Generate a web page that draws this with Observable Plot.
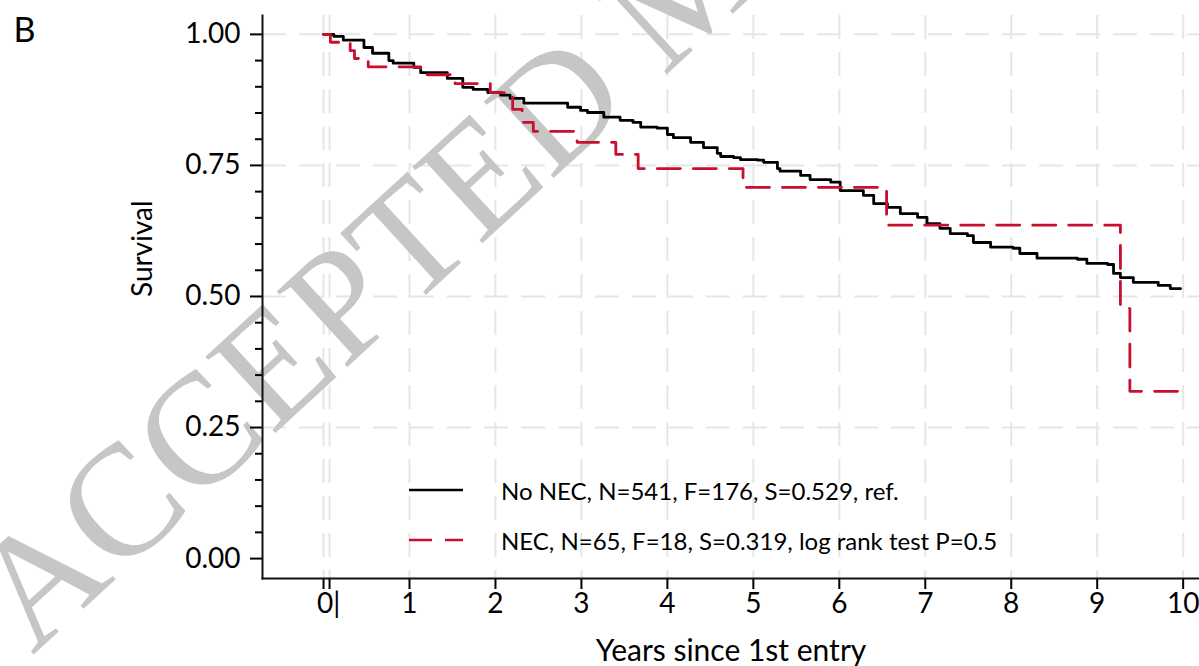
<!DOCTYPE html>
<html>
<head>
<meta charset="utf-8">
<script src="https://cdn.jsdelivr.net/npm/d3@7"></script>
<script src="https://cdn.jsdelivr.net/npm/@observablehq/plot@0.6"></script>
<style>
  html, body { margin: 0; padding: 0; background: #fff; }
  #wrap { position: relative; width: 1199px; height: 666px; overflow: hidden; font-family: Lato, sans-serif; }
  #legend { position: absolute; left: 409px; top: 465px; font-size: 24px; color: #000; font-family: Lato, sans-serif; }
  .row { display: flex; align-items: center; height: 50px; }
  .row span { margin-left: 38px; white-space: nowrap; }
  .row svg { display: block; }
</style>
</head>
<body>
<div id="wrap"></div>
<script>
// ---------- data ----------
const panelLabel = "B";
const watermark = "ACCEPTED MANUSCRIPT";
const xLabel = "Years since 1st entry";
const yLabel = "Survival";
const seriesNames = ["No NEC", "NEC"];
const legendLabels = [
  "No NEC, N=541, F=176, S=0.529, ref.",
  "NEC, N=65, F=18, S=0.319, log rank test P=0.5"
];
const xTicks = [0, 0.07, 1, 2, 3, 4, 5, 6, 7, 8, 9, 10];
const xTickLabels = ["", "", "1", "2", "3", "4", "5", "6", "7", "8", "9", "10"];
const xZeroLabel = "0|";
const yTicks = [0, 0.25, 0.5, 0.75, 1];
const yTickLabels = ["0.00", "0.25", "0.50", "0.75", "1.00"];
const yMinorTicks = [0.05, 0.1, 0.15, 0.2, 0.3, 0.35, 0.4, 0.45, 0.55, 0.6, 0.65, 0.7, 0.8, 0.85, 0.9, 0.95];
const yGridTicks = [0.25, 0.5, 0.75, 1];

const noNecTime = [0, 0.12, 0.23, 0.47, 0.57, 0.76, 0.81, 1.05, 1.13, 1.44, 1.62, 1.74, 1.91, 2.06, 2.17,
  2.33, 2.84, 2.99, 3.07, 3.26, 3.45, 3.60, 3.69, 3.88, 4.00, 4.07, 4.27, 4.42, 4.58, 4.62,
  4.77, 4.85, 5.05, 5.12, 5.28, 5.31, 5.55, 5.66, 5.90, 6.01, 6.28, 6.40, 6.56, 6.71, 6.91,
  7.02, 7.17, 7.29, 7.49, 7.56, 7.76, 8.02, 8.10, 8.30, 8.77, 8.88, 9.12, 9.19, 9.27, 9.42,
  9.71, 9.85, 9.97];
const noNecSurv = [1.000, 0.996, 0.989, 0.975, 0.964, 0.950, 0.945, 0.937, 0.927, 0.916, 0.899, 0.895, 0.889, 0.884, 0.878,
  0.869, 0.861, 0.855, 0.851, 0.842, 0.836, 0.832, 0.823, 0.821, 0.809, 0.803, 0.794, 0.784, 0.773, 0.767,
  0.765, 0.761, 0.760, 0.756, 0.744, 0.739, 0.731, 0.723, 0.718, 0.702, 0.693, 0.677, 0.670, 0.658, 0.651,
  0.639, 0.630, 0.620, 0.616, 0.603, 0.594, 0.592, 0.582, 0.573, 0.571, 0.563, 0.561, 0.544, 0.536, 0.527,
  0.521, 0.515, 0.515];

const necTime = [0, 0.08, 0.31, 0.36, 0.52, 1.13, 1.53, 1.94, 2.20, 2.31, 2.44, 2.95, 3.40, 3.66, 4.88, 6.55, 9.27, 9.38, 9.97];
const necSurv = [1.000, 0.985, 0.969, 0.954, 0.938, 0.923, 0.906, 0.889, 0.857, 0.832, 0.815, 0.794, 0.771, 0.744, 0.708, 0.636, 0.477, 0.319, 0.319];

// ---------- styles ----------
const seriesStyle = [
  {stroke: "#000000", dash: null},
  {stroke: "#c8102e", dash: "23,13"}
];
const gridStyle = {stroke: "#e6e6e6", strokeOpacity: 1, strokeWidth: 2, strokeDasharray: "24,13"};
const font = "Lato, sans-serif";

const rowsNoNec = noNecTime.map((t, i) => ({t, s: noNecSurv[i], series: seriesNames[0]}));
const rowsNec = necTime.map((t, i) => ({t, s: necSurv[i], series: seriesNames[1]}));

const plot = Plot.plot({
  width: 1199,
  height: 666,
  marginLeft: 262,
  marginRight: 0,
  marginTop: 15,
  marginBottom: 88,
  x: {domain: [-0.71, 10.19]},
  y: {domain: [-0.038, 1.036]},
  style: {fontFamily: font, background: "transparent", color: "#000", overflow: "visible"},
  marks: [
    Plot.gridX(xTicks, gridStyle),
    Plot.gridY(yGridTicks, gridStyle),
    Plot.text([watermark], {
      frameAnchor: "top-left", dx: -230, dy: 640, rotate: -42.5,
      textAnchor: "start", lineAnchor: "bottom",
      fontSize: 158, fontFamily: "Liberation Serif, serif", fill: "#c6c6c6"
    }),
    Plot.line(rowsNoNec, {x: "t", y: "s", curve: "step-after", stroke: seriesStyle[0].stroke, strokeWidth: 2.8}),
    Plot.line(rowsNec, {x: "t", y: "s", curve: "step-after", stroke: seriesStyle[1].stroke, strokeWidth: 2.8, strokeDasharray: seriesStyle[1].dash}),
    Plot.axisY(yTicks, {tickSize: 12, tickPadding: 10, strokeWidth: 2, fontSize: 28, label: null,
      tickFormat: d => yTickLabels[yTicks.indexOf(d)]}),
    Plot.axisY(yMinorTicks, {tickSize: 7, strokeWidth: 2, tickFormat: () => "", label: null}),
    Plot.axisX(xTicks, {tickSize: 11, tickPadding: 4, strokeWidth: 2, fontSize: 28, label: null,
      tickFormat: d => xTickLabels[xTicks.indexOf(d)]}),
    Plot.axisX([0], {tickSize: 0, tickPadding: 15, dx: 5, fontSize: 28, label: null,
      tickFormat: () => xZeroLabel}),
    Plot.frame({anchor: "left", strokeWidth: 2, stroke: "#111"}),
    Plot.frame({anchor: "bottom", strokeWidth: 2, stroke: "#111"}),
    Plot.text([yLabel], {frameAnchor: "left", dx: -119, rotate: -90, fontSize: 28}),
    Plot.text([xLabel], {frameAnchor: "bottom", dy: 82, lineAnchor: "bottom", fontSize: 30}),
    Plot.text([panelLabel], {frameAnchor: "top-left", dx: -249, dy: 2, lineAnchor: "top", textAnchor: "start", fontSize: 34})
  ]
});

const wrap = document.getElementById("wrap");
wrap.appendChild(plot);

// legend
const legend = d3.select(wrap).append("div").attr("id", "legend");
legendLabels.forEach((lab, i) => {
  const row = legend.append("div").attr("class", "row");
  const svg = row.append("svg").attr("width", 54).attr("height", 6);
  svg.append("line").attr("x1", 0).attr("x2", 54).attr("y1", 3).attr("y2", 3)
    .attr("stroke", seriesStyle[i].stroke).attr("stroke-width", 2.5)
    .attr("stroke-dasharray", seriesStyle[i].dash);
  row.append("span").text(lab);
});
</script>
</body>
</html>
